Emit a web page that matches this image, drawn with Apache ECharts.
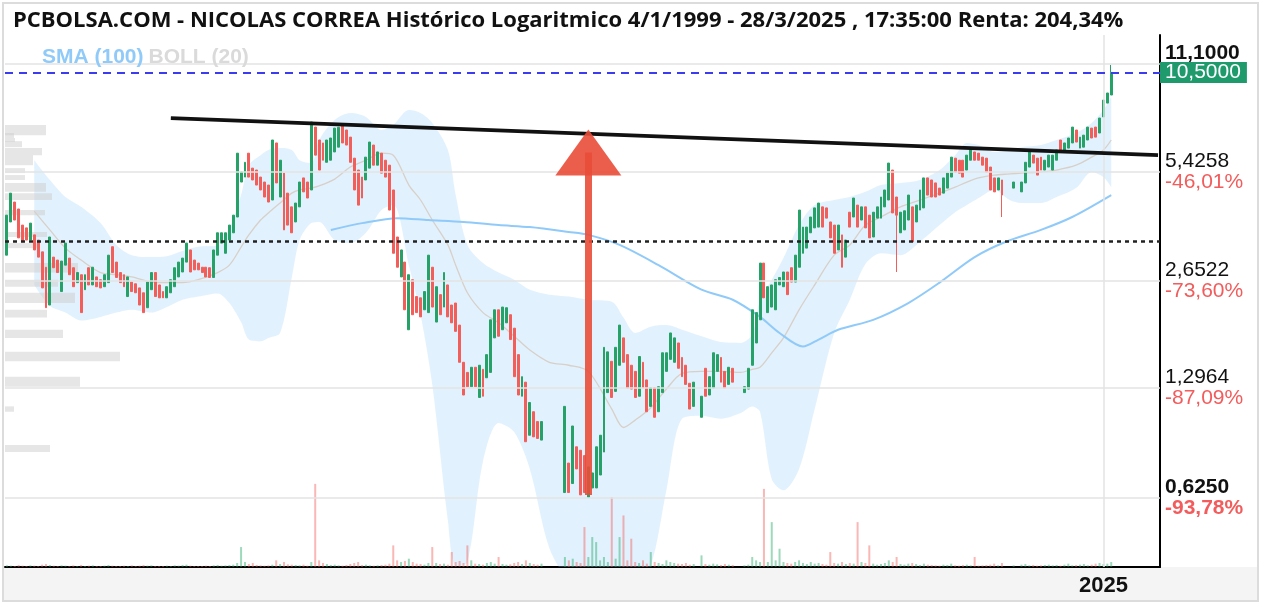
<!DOCTYPE html>
<html><head><meta charset="utf-8">
<script src="https://cdn.jsdelivr.net/npm/echarts@6/dist/echarts.min.js"></script>
<style>html,body{margin:0;padding:0;background:#fff}#c{width:1264px;height:608px}</style>
</head><body><div id="c"></div>
<script>
// ---------- DATA ----------
const titleText = 'PCBOLSA.COM - NICOLAS CORREA Histórico Logaritmico 4/1/1999 - 28/3/2025 , 17:35:00 Renta: 204,34%';
const N_CATS = 296;
const yearTick = {index: 281, label: '2025'};

const opens = [3.13,3.90,4.45,4.25,3.82,3.75,3.46,3.58,3.46,3.20, 2.89,2.25,3.09,3.03,2.46,2.93,3.07,2.88,2.61,2.75,
2.49,2.88,2.57,2.71,2.66,2.54,2.61,3.31,2.99,2.79, 2.75,2.38,2.62,2.59,2.52,2.44,2.21,2.49,2.79,2.57,
2.46,2.36,2.44,2.54,2.71,2.80,2.99,3.24,3.03,2.97, 2.89,2.89,2.88,2.70,3.13,3.39,3.17,3.46,3.63,4.03,
5.08,5.25,6.15,5.57,5.50,5.25,5.08,4.98,4.51,6.58, 4.60,5.39,4.72,4.31,3.90,4.31,5.22,5.08,4.82,7.31,
6.71,6.58,5.79,5.87,6.20,6.40,7.41,7.17,6.84,5.95, 5.50,5.25,5.15,5.57,6.49,5.68,6.15,5.87,5.68,4.82,
3.53,2.71,2.99,1.91,2.66,2.38,2.36,2.18,2.14,2.89, 2.01,2.41,2.22,2.57,2.25,2.28,1.97,1.54,1.44,1.31,
1.49,1.22,1.47,1.39,1.44,1.81,2.18,1.91,2.00,2.11, 1.93,1.62,1.23,1.35,0.95,1.11,1.04,0.92,null,null,
null,null,null,0.65,0.79,0.69,0.88,0.86,0.83,0.63, 0.67,0.67,0.73,0.85,1.26,1.55,1.27,1.51,1.81,1.62,
1.51,1.45,1.23,1.54,1.37,1.15,1.30,1.11,1.26,1.45, 1.57,1.54,1.75,1.59,1.51,1.34,1.15,null,1.07,1.48,
1.24,1.30,1.45,1.59,1.45,1.33,1.48,null,null,1.26, 1.29,1.51,1.75,2.04,2.97,2.14,2.22,2.18,2.57,2.54,
2.80,2.88,2.62,2.89,3.17,3.28,3.63,3.75,3.77,4.31, 4.28,3.90,3.82,3.24,3.58,3.09,4.16,4.03,4.36,3.95,
4.31,4.08,3.53,4.00,4.00,4.31,4.51,5.50,4.60,3.63, 3.70,3.95,4.31,3.90,4.22,4.28,5.22,5.15,5.05,4.88,
4.72,4.88,5.25,5.95,5.87,5.87,5.50,5.87,6.20,6.15, 5.99,5.95,5.61,5.22,4.82,5.15,null,null,4.88,null,
4.76,5.05,5.61,6.07,5.95,5.99,5.50,5.61,5.50,5.87, 6.71,6.20,6.36,6.58,7.17,6.36,6.40,6.71,7.26,7.31,
7.03,7.82,8.57,9.04];
const closes = [4.08,4.72,3.95,3.51,3.42,3.46,3.87,3.24,3.09,2.52, 2.21,3.53,2.88,2.79,3.01,3.39,2.75,2.54,2.79,2.14,
2.75,2.57,2.89,2.54,2.52,2.75,3.13,2.79,2.70,2.61, 2.54,2.71,2.46,2.44,2.25,2.14,2.62,2.79,2.38,2.36,
2.36,2.54,2.66,2.88,2.99,3.07,3.39,2.80,2.84,2.84, 2.79,2.71,2.70,3.24,3.63,3.63,3.63,3.82,4.08,6.15,
5.43,5.79,5.25,5.15,4.98,4.82,4.60,4.45,6.71,5.05, 5.87,3.70,3.82,3.63,4.42,5.08,4.76,4.57,7.56,6.07,
5.50,5.87,6.71,6.80,7.26,7.30,6.58,6.49,5.79,4.82, 4.36,4.57,5.99,6.62,5.68,6.20,5.39,5.25,4.22,3.17,
2.89,3.24,2.18,2.75,2.11,2.14,2.08,2.46,3.13,2.22, 2.54,2.11,2.79,2.08,2.00,1.89,1.54,1.24,1.31,1.49,
1.31,1.51,1.23,1.62,2.04,2.18,1.83,2.22,2.21,1.79, 1.40,1.24,1.40,0.91,1.18,0.94,0.93,1.04,null,null,
null,null,null,1.15,0.65,1.01,0.76,0.64,0.65,0.77, 0.74,0.88,0.95,1.70,1.65,1.22,1.70,1.97,1.54,1.30,
1.29,1.22,1.60,1.30,1.11,1.30,1.07,1.31,1.64,1.64, 1.87,1.81,1.48,1.40,1.33,1.13,1.35,null,1.23,1.23,
1.40,1.64,1.62,1.35,1.30,1.49,1.35,null,null,1.31, 1.48,2.18,2.14,2.97,2.36,2.54,2.57,2.66,2.70,2.80,
2.41,2.62,3.13,4.22,3.77,3.77,4.03,4.28,4.42,3.77, 4.00,3.51,3.17,3.82,2.89,3.46,3.77,4.57,3.77,4.31,
3.75,3.51,4.16,4.31,4.60,4.82,5.76,4.14,4.08,4.16, 4.20,4.66,3.42,4.36,4.82,5.22,4.66,4.60,4.60,4.66,
5.22,5.39,5.99,5.43,5.39,5.25,6.07,6.28,5.87,5.87, 5.68,5.43,4.82,4.76,5.22,4.66,null,null,5.08,null,
5.08,5.79,6.20,5.76,5.32,5.50,5.87,6.07,6.07,6.28, 6.20,6.58,6.80,7.31,6.62,6.84,6.93,7.31,6.80,6.84,
7.76,8.74,9.16,10.50];
const lowWicks = {228: 2.80, 255: 4.03};
const highWicks = {283: 11.03};

const volumes = [10,8,6,12,8,6,10,8,6,14, 18,12,8,6,10,8,6,10,6,12, 6,8,10,6,6,8,12,8,6,6, 8,6,10,6,8,12,8,10,6,6,
6,8,6,10,8,12,14,8,6,6, 6,8,6,10,12,8,10,12,14,24, 120,30,18,24,12,10,8,10,14,40, 18,30,16,14,12,10,14,8,30,500,
40,24,18,12,14,10,8,12,18,24, 30,12,14,10,8,10,12,14,20,130, 40,30,36,50,30,20,18,14,24,120, 24,18,20,14,90,30,36,24,130,40,
20,18,14,24,30,20,60,18,14,16, 24,30,18,40,24,18,14,20,0,0, 0,0,0,60,40,50,30,24,240,60, 180,150,40,60,30,420,50,180,310,40,
170,30,24,40,20,90,30,24,18,40, 30,24,20,18,24,14,18,0,70,18, 14,20,16,12,18,14,12,0,0,10, 14,60,40,30,470,30,270,40,110,30,
24,20,30,40,24,18,30,20,24,18, 14,90,24,20,30,18,24,20,270,30, 24,130,20,14,18,24,40,30,60,18, 14,20,24,18,12,20,14,12,10,8,
14,12,20,10,8,12,14,10,60,8, 10,12,14,20,10,24,0,0,10,0, 14,18,10,12,8,10,12,14,10,12, 8,14,20,10,12,14,18,10,14,20,
24,18,20,30];

const bollIdx = [7,11,15,19,24,28,32,37,41,45, 49,54,57,60,62,65,67,70,73,75, 78,80,84,88,92,96,99,103,106,109,
113,115,118,122,126,130,134,139,144,149, 155,158,161,165,169,173,178,183,188,191, 193,196,199,203,207,212,216,220,224,229,
234,239,243,246,249,253,257,260,265,269, 274,278,281,283];
const bollUpper = [5.87,5.15,4.60,4.31,3.87,3.35,3.13,3.09,3.11,3.22, 3.31,3.33,3.70,4.66,5.68,6.07,6.28,6.36,6.28,5.87,
5.76,6.71,7.66,8.02,7.82,7.17,7.41,8.18,8.02,7.51, 6.28,4.66,3.35,2.97,2.79,2.66,2.49,2.41,2.38,2.33,
2.30,2.07,1.87,1.95,1.97,1.91,1.83,1.76,1.75,1.85, 2.33,2.66,3.07,3.82,4.36,4.51,4.60,4.76,4.98,5.05,
5.15,5.50,6.07,6.58,6.49,6.20,6.28,6.40,6.49,6.71, 7.03,7.51,8.18,8.92];
const bollLower = [2.57,2.24,2.14,2.03,2.08,2.14,2.18,2.14,2.22,2.33, 2.38,2.43,2.28,2.01,1.79,1.77,1.81,1.87,2.70,3.46,
3.87,3.90,3.46,3.39,3.63,4.22,4.36,2.93,2.11,1.33, 0.54,0.40,0.41,0.80,1.03,0.97,0.76,0.45,0.36,0.32,
0.33,0.33,0.35,0.40,0.66,1.06,1.08,1.06,1.10,1.15, 1.11,0.71,0.66,0.76,1.13,1.87,2.33,2.95,3.17,3.13,
3.42,3.82,4.16,4.36,4.57,4.82,4.51,4.42,4.42,4.60, 4.88,5.43,5.25,4.91];
const bollMid = [4.19,3.70,3.28,3.03,2.79,2.75,2.71,2.62,2.61,2.61, 2.66,2.79,2.93,3.30,3.58,3.95,4.14,4.42,4.72,4.82,
4.88,4.95,5.18,5.61,5.87,6.15,6.07,4.98,4.51,3.95, 3.35,2.93,2.44,2.14,2.00,1.83,1.67,1.54,1.51,1.45,
1.13,1.00,1.05,1.14,1.29,1.43,1.45,1.45,1.44,1.47, 1.49,1.64,1.81,2.18,2.57,3.13,3.35,3.82,4.03,4.31,
4.51,4.72,4.91,5.08,5.22,5.32,5.36,5.39,5.43,5.50, 5.68,5.99,6.28,6.71];

const smaIdx = [83,91,100,108,117,126,134,144,149,157,167,178,186,193,198,204,208,213,222,231,239,248,256,265,273,283];
const smaVals = [3.70,3.87,4.00,3.95,3.90,3.82,3.77,3.65,3.58,3.35,2.93,2.49,2.33,2.08,1.87,1.71,1.79,1.91,2.04,2.28,2.61,3.09,3.42,3.70,4.03,4.66];

const profileHigh = [7.41,7.03,6.80,6.66,6.36,6.07,5.57,5.32,5.05,4.72,4.22,3.65,3.39,2.97,2.66,2.44,2.18,1.91,1.65,1.40,1.15,0.89];
const profileLow  = [6.93,6.80,6.62,6.40,6.07,5.68,5.39,5.15,4.76,4.51,4.08,3.53,3.28,2.79,2.54,2.28,2.07,1.81,1.55,1.31,1.11,0.85];
const profileVol  = [41,9,10,17,37,28,20,20,41,47,40,42,32,73,53,70,42,58,115,75,9,45];

const tickVals = [11.1, 5.4258, 2.6522, 1.2964, 0.625];
const tickText = ['11,1000','5,4258','2,6522','1,2964','0,6250'];
const tickPct  = ['', '-46,01%','-73,60%','-87,09%','-93,78%'];
const tickBold = [true,false,false,false,true];

const lastPrice = 10.5, lastPriceText = '10,5000';
const supportLevel = 3.44;
const trendStart = [42, 7.76], trendEnd = [295, 6.07];
const arrowFrom = [149, 0.64], arrowTo = [149, 6.18];
const legendItems = ['SMA (100)', 'BOLL (20)'];

// ---------- BUILD ----------
const UP = '#26a269', DOWN = '#f25f5a';
const cats = Array.from({length: N_CATS}, (_, i) => 'm' + i);
const candleData = opens.map((o, i) => o == null ? ['-','-','-','-'] :
  [o, closes[i], lowWicks[i] != null ? lowWicks[i] : Math.min(o, closes[i]), highWicks[i] != null ? highWicks[i] : Math.max(o, closes[i])]);
const volData = volumes.map((v, i) => ({value: v, itemStyle: {color: (opens[i] != null && closes[i] < opens[i]) ? 'rgba(242,95,90,0.45)' : 'rgba(38,170,105,0.45)'}}));
const lowerData = bollIdx.map((k, j) => [cats[k], bollLower[j]]);
const spanData = bollIdx.map((k, j) => [cats[k], +(bollUpper[j] - bollLower[j]).toFixed(3)]);
const midData = bollIdx.map((k, j) => [cats[k], bollMid[j]]);
const smaData = smaIdx.map((k, j) => [cats[k], smaVals[j]]);
const profData = profileVol.map((w, j) => [w, profileHigh[j], profileLow[j]]);

const FONT = '"Liberation Sans", Arial, sans-serif';
const FS = 21;
const rich = {
  p:  {fontFamily: FONT, fontSize: FS, color: '#111', lineHeight: 21},
  pb: {fontFamily: FONT, fontSize: FS, color: '#111', lineHeight: 21, fontWeight: 'bold'},
  r:  {fontFamily: FONT, fontSize: FS, color: '#f25c5c', lineHeight: 21},
  rb: {fontFamily: FONT, fontSize: FS, color: '#f25c5c', lineHeight: 21, fontWeight: 'bold'},
  e:  {lineHeight: 21, fontSize: FS}
};
const gridMarks = tickVals.map((v, j) => ({
  yAxis: v,
  label: {show: true, position: 'end', distance: 5, rich,
    formatter: (tickBold[j] ? '{pb|' : '{p|') + tickText[j] + '}\n' + (tickPct[j] ? (tickBold[j] ? '{rb|' : '{r|') + tickPct[j] + '}' : '{e| }')}
}));
gridMarks.push({xAxis: cats[yearTick.index], label: {show: false}});

const option = {
  animation: false,
  backgroundColor: '#fff',
  title: [
    {text: titleText, left: 8, top: 5, textStyle: {fontFamily: '"Open Sans"', fontSize: 22, fontWeight: 'bold', color: '#111'}},
    {text: '{a|' + legendItems[0] + '} {b|' + legendItems[1] + '}', left: 37, top: 42,
      textStyle: {rich: {a: {fontFamily: FONT, fontSize: 21, fontWeight: 'bold', color: '#90caf9'},
                         b: {fontFamily: FONT, fontSize: 21, fontWeight: 'bold', color: '#dadada'}}}}
  ],
  graphic: [
    {type: 'rect', z: -1, shape: {x: 4, y: 567, width: 1254, height: 34}, style: {fill: '#f4f4f4'}},
    {type: 'rect', z: 100, shape: {x: 3, y: 3, width: 1255, height: 598}, style: {fill: 'none', stroke: '#dcdcdc', lineWidth: 2}}
  ],
  grid: {left: 5, right: 104, top: 35, bottom: 41, containLabel: false},
  xAxis: [
    {type: 'category', data: cats, boundaryGap: true,
      axisLine: {show: true, lineStyle: {color: '#000', width: 2}}, axisTick: {show: false}, splitLine: {show: false},
      axisLabel: {interval: (i) => i === yearTick.index, formatter: () => yearTick.label, margin: 8,
        fontFamily: FONT, fontSize: 22, fontWeight: 'bold', color: '#111'}},
    {type: 'value', min: 0, max: 1155, show: false}
  ],
  yAxis: [
    {type: 'log', min: 0.397, max: 13.45, position: 'right', logBase: 10,
      axisLine: {show: true, onZero: false, lineStyle: {color: '#000', width: 2}}, axisTick: {show: false},
      axisLabel: {show: false}, splitLine: {show: false}},
    {type: 'value', min: 0, max: 3200, show: false}
  ],
  series: [
    {type: 'line', name: 'grid', data: [], z: 0, silent: true,
      markLine: {silent: true, symbol: ['none','none'], lineStyle: {color: '#e3e3e3', width: 1.5, type: 'solid'}, data: gridMarks}},
    {type: 'line', name: 'bollLow', data: lowerData, stack: 'boll', smooth: 0.3, symbol: 'none', z: 1,
      lineStyle: {width: 0, opacity: 0}},
    {type: 'line', name: 'bollBand', data: spanData, stack: 'boll', smooth: 0.3, symbol: 'none', z: 1,
      lineStyle: {width: 0, opacity: 0}, areaStyle: {color: 'rgba(144,202,249,0.27)', opacity: 1}},
    {type: 'custom', name: 'profile', xAxisIndex: 1, yAxisIndex: 0, z: 2, data: profData,
      encode: {x: 0, y: [1, 2]},
      renderItem: (params, api) => {
        const a = api.coord([0, api.value(1)]);
        const b = api.coord([api.value(0), api.value(2)]);
        return {type: 'rect', shape: {x: a[0], y: a[1], width: b[0] - a[0], height: b[1] - a[1]},
          style: {fill: 'rgba(205,205,205,0.5)'}};
      }},
    {type: 'bar', name: 'vol', xAxisIndex: 0, yAxisIndex: 1, data: volData, barWidth: 2, z: 2, silent: true},
    {type: 'line', name: 'mid', data: midData, smooth: 0.3, symbol: 'none', z: 3,
      lineStyle: {color: '#d8d0c8', width: 1.3}},
    {type: 'line', name: 'sma', data: smaData, smooth: 0.3, symbol: 'none', z: 3,
      lineStyle: {color: '#90caf9', width: 2}},
    {type: 'candlestick', name: 'price', data: candleData, barWidth: '62%', z: 4,
      itemStyle: {color: UP, color0: DOWN, borderColor: UP, borderColor0: DOWN, borderWidth: 1}},
    {type: 'line', name: 'annot', data: [], z: 10, silent: true,
      markLine: {silent: true, symbol: ['none','none'], data: [
        {yAxis: supportLevel, lineStyle: {color: '#222', width: 2.5, type: [4, 4]}, label: {show: false}},
        {yAxis: lastPrice, lineStyle: {color: '#3b3bf2', width: 2, type: [8, 6]},
          label: {show: true, position: 'end', distance: 0, formatter: lastPriceText, color: '#fff',
            backgroundColor: '#1f9a6c', padding: [1, 6, 0, 5], fontFamily: FONT, fontSize: 21, lineHeight: 20}},
        [{coord: [cats[trendStart[0]], trendStart[1]], lineStyle: {color: '#111', width: 3.8, type: 'solid'}, label: {show: false}},
         {coord: [cats[trendEnd[0]], trendEnd[1]]}],
        [{coord: [cats[arrowFrom[0]], arrowFrom[1]], symbol: 'none', lineStyle: {color: 'rgba(233,76,56,0.9)', width: 7, type: 'solid'}, label: {show: false}},
         {coord: [cats[arrowTo[0]], arrowTo[1]], symbol: 'triangle', symbolSize: [66, 46]}]
      ]}}
  ]
};
const chart = echarts.init(document.getElementById('c'));
chart.setOption(option);
</script>
</body></html>
